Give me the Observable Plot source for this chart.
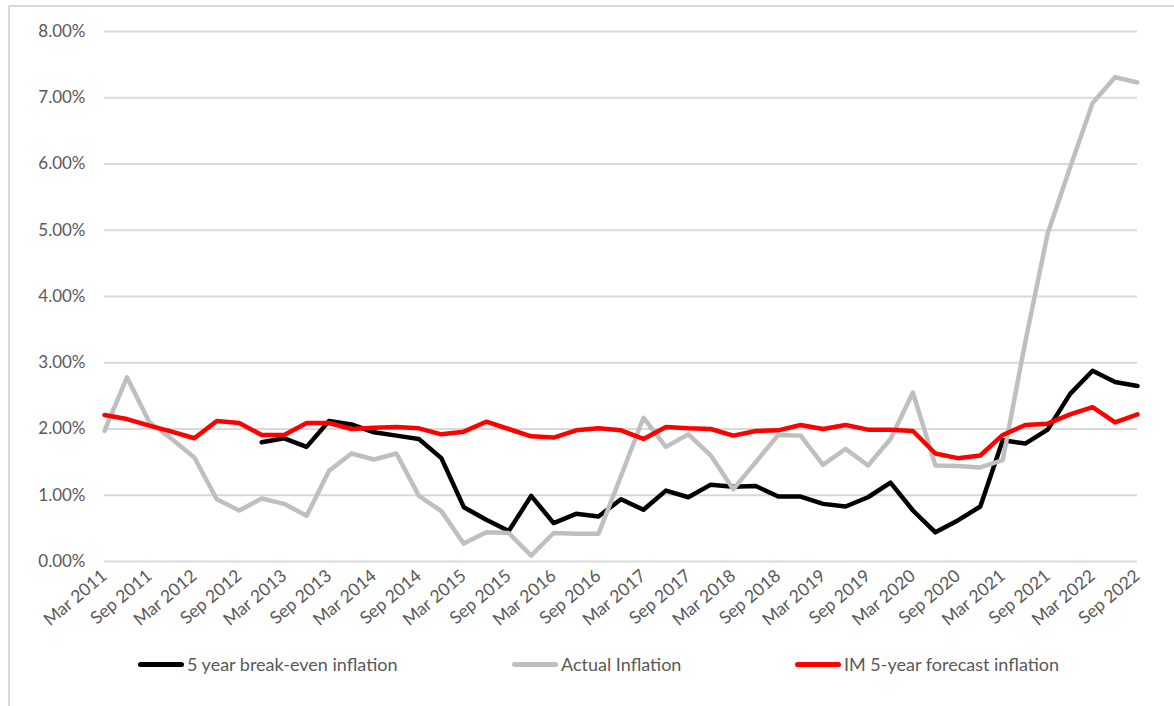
<!DOCTYPE html>
<html>
<head>
<meta charset="utf-8">
<script src="https://cdn.jsdelivr.net/npm/d3@7"></script>
<script src="https://cdn.jsdelivr.net/npm/@observablehq/plot@0.6"></script>
<style>
  html, body { margin: 0; padding: 0; background: #fff; overflow: hidden; }
  #frame { position: relative; width: 1174px; height: 706px; font-family: Lato, "Open Sans", sans-serif; }
  #border { position: absolute; left: 8px; top: 5px; width: 1200px; height: 720px;
            border-left: 2px solid #d9d9d9; border-top: 2px solid #d9d9d9; box-sizing: border-box; }
  #chart { position: absolute; left: 0; top: 0; }
  #legend { position: absolute; left: 0; top: 640px; width: 1174px; height: 50px; color: #595959; font-size: 18px; }
  .item { position: absolute; top: 24px; display: flex; align-items: center; transform: translateY(-50%); }
  .swatch { width: 46px; height: 5px; border-radius: 3px; margin-right: 3px; }
</style>
</head>
<body>
<div id="frame">
  <div id="border"></div>
  <div id="chart"></div>
  <div id="legend"></div>
</div>
<script>
// Quarter-end dates, March 2011 to September 2022
const quarters = [
  "Mar 2011","Jun 2011","Sep 2011","Dec 2011",
  "Mar 2012","Jun 2012","Sep 2012","Dec 2012",
  "Mar 2013","Jun 2013","Sep 2013","Dec 2013",
  "Mar 2014","Jun 2014","Sep 2014","Dec 2014",
  "Mar 2015","Jun 2015","Sep 2015","Dec 2015",
  "Mar 2016","Jun 2016","Sep 2016","Dec 2016",
  "Mar 2017","Jun 2017","Sep 2017","Dec 2017",
  "Mar 2018","Jun 2018","Sep 2018","Dec 2018",
  "Mar 2019","Jun 2019","Sep 2019","Dec 2019",
  "Mar 2020","Jun 2020","Sep 2020","Dec 2020",
  "Mar 2021","Jun 2021","Sep 2021","Dec 2021",
  "Mar 2022","Jun 2022","Sep 2022"
];

// 5 year break-even inflation (%), no data before Dec 2012
const breakEven = [
  null, null, null, null, null, null, null, 1.80,
  1.86, 1.73, 2.12, 2.07, 1.95, 1.90, 1.85, 1.56,
  0.82, 0.63, 0.46, 0.99, 0.58, 0.72, 0.68, 0.94,
  0.78, 1.07, 0.97, 1.16, 1.13, 1.14, 0.98, 0.98,
  0.87, 0.83, 0.97, 1.19, 0.77, 0.44, 0.62, 0.83,
  1.83, 1.78, 1.99, 2.53, 2.88, 2.71, 2.65
];

// Actual inflation (%)
const actual = [
  1.97, 2.78, 2.10, 1.85, 1.57, 0.94, 0.77, 0.95,
  0.87, 0.69, 1.37, 1.63, 1.54, 1.63, 0.99, 0.76,
  0.27, 0.44, 0.43, 0.09, 0.43, 0.42, 0.42, 1.29,
  2.17, 1.73, 1.92, 1.60, 1.09, 1.50, 1.91, 1.90,
  1.46, 1.70, 1.45, 1.85, 2.55, 1.45, 1.44, 1.42,
  1.53, 3.31, 4.95, 5.95, 6.92, 7.31, 7.23
];

// IM 5-year forecast inflation (%)
const imForecast = [
  2.21, 2.15, 2.05, 1.96, 1.86, 2.12, 2.09, 1.91,
  1.91, 2.09, 2.09, 2.00, 2.02, 2.03, 2.01, 1.92,
  1.96, 2.11, 2.00, 1.89, 1.87, 1.98, 2.01, 1.98,
  1.85, 2.03, 2.01, 2.00, 1.90, 1.97, 1.98, 2.06,
  2.00, 2.06, 1.99, 1.99, 1.97, 1.63, 1.56, 1.60,
  1.91, 2.06, 2.08, 2.22, 2.33, 2.10, 2.22
];

const seriesNames = ["5 year break-even inflation", "Actual Inflation", "IM 5-year forecast inflation"];
const seriesColors = ["#000000", "#bfbfbf", "#ff0000"];
const yTicks = [0, 1, 2, 3, 4, 5, 6, 7, 8];

// Long table for the line marks; missing values are left out
const rows = [];
[breakEven, actual, imForecast].forEach((values, s) => {
  values.forEach((v, i) => {
    if (v != null) rows.push({i, quarter: quarters[i], series: seriesNames[s], value: v});
  });
});

// Label every second quarter (March and September)
const xTicks = quarters.map((q, i) => i).filter(i => i % 2 === 0);

const chart = Plot.plot({
  width: 1174,
  height: 640,
  marginTop: 31,
  marginBottom: 79,
  marginLeft: 104,
  marginRight: 37,
  style: {fontFamily: "Lato, 'Open Sans', sans-serif", color: "#595959", background: "transparent"},
  x: {type: "linear", domain: [0, quarters.length - 1]},
  y: {domain: [0, 8]},
  color: {domain: seriesNames, range: seriesColors},
  marks: [
    Plot.gridY(yTicks, {stroke: "#d9d9d9", strokeOpacity: 1, strokeWidth: 2}),
    Plot.axisY(yTicks, {
      tickSize: 0, tickPadding: 19, label: null, fontSize: 17,
      tickFormat: d => d.toFixed(2) + "%"
    }),
    Plot.axisX(xTicks, {
      tickSize: 0, tickPadding: 12, tickRotate: -40, label: null, fontSize: 17.5,
      tickFormat: i => quarters[i]
    }),
    Plot.line(rows, {
      x: "i", y: "value", z: "series", stroke: "series",
      strokeWidth: 4.5, strokeLinejoin: "round", strokeLinecap: "round"
    })
  ]
});
document.getElementById("chart").appendChild(chart);

// Legend below the plot
const legend = document.getElementById("legend");
const legendX = [138, 512, 795];
seriesNames.forEach((name, s) => {
  const item = document.createElement("div");
  item.className = "item";
  item.style.left = legendX[s] + "px";
  const sw = document.createElement("div");
  sw.className = "swatch";
  sw.style.background = seriesColors[s];
  const label = document.createElement("span");
  label.textContent = name;
  item.appendChild(sw);
  item.appendChild(label);
  legend.appendChild(item);
});
</script>
</body>
</html>
